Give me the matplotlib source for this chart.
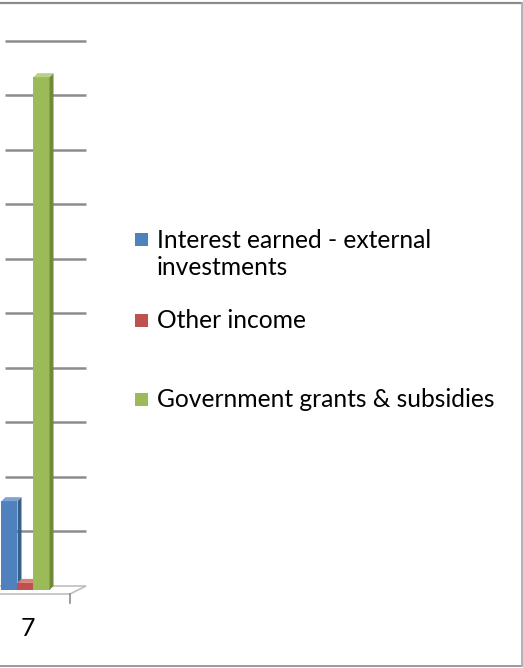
import matplotlib
matplotlib.use("Agg")
import matplotlib.pyplot as plt
from matplotlib.patches import Polygon
from matplotlib.lines import Line2D

category = "7"
series = ["Interest earned - external\ninvestments", "Other income",
          "Government grants & subsidies"]
values = [1.63, 0.13, 9.41]
gridlines = list(range(1, 11))

front = ["#4F81BD", "#C0504D", "#9BBB59"]
side = ["#38608F", "#8E3532", "#6F8B3A"]
top = ["#7EA3D1", "#D7817E", "#B9D187"]

W, H = 523, 668
fig = plt.figure(figsize=(W / 100, H / 100), dpi=100)

# pixel geometry of plot area
px_unit_y = 54.5
floor_px = 586
ylo, yhi = -0.4, 10.2
bot_px = floor_px - ylo * px_unit_y
top_px = floor_px - yhi * px_unit_y
px_unit_x = 80
center_px = 25.5
ax_right_px = 90
xlo = (0 - center_px) / px_unit_x
xhi = (ax_right_px - center_px) / px_unit_x

ax = fig.add_axes([0, 1 - bot_px / H, ax_right_px / W, (bot_px - top_px) / H])
ax.set_xlim(xlo, xhi)
ax.set_ylim(ylo, yhi)
ax.axis("off")

dx = 4 / px_unit_x
dy = 4 / px_unit_y
w = 16 / px_unit_x

# back wall gridlines
ax.hlines(gridlines, (5 - center_px) / px_unit_x, (86 - center_px) / px_unit_x,
          colors="#8C8C8C", linewidth=1.8, zorder=1)

# floor
fx_front = (70 - center_px) / px_unit_x
fx_back = (86 - center_px) / px_unit_x
ax.add_patch(Polygon([(xlo - 1, 0), (fx_back, 0), (fx_front, -2 * dy), (xlo - 1, -2 * dy)],
                     closed=True, facecolor="white", edgecolor="#BFBFBF",
                     linewidth=1.2, zorder=2))
ax.plot([fx_front, fx_front], [-2 * dy, -2 * dy - 9 / px_unit_y], color="#8C8C8C",
        linewidth=1.2, zorder=2)

# 3D columns
offsets = [-w, 0, w]
for i, v in enumerate(values):
    x0 = offsets[i] - w / 2
    ax.bar(offsets[i], v, width=w, bottom=-dy, color=front[i], linewidth=0, zorder=3 + i)
    ax.add_patch(Polygon([(x0 + w, -dy), (x0 + w + dx, 0), (x0 + w + dx, v), (x0 + w, v - dy)],
                         closed=True, facecolor=side[i], linewidth=0, zorder=3 + i))
    ax.add_patch(Polygon([(x0, v - dy), (x0 + w, v - dy), (x0 + w + dx, v), (x0 + dx, v)],
                         closed=True, facecolor=top[i], linewidth=0, zorder=3 + i))

fig.text(28 / W, 1 - 628 / H, category, ha="center", va="center", fontsize=18,
         family="Lato", color="black")

# legend
leg_y = [240, 320, 399]
for i, name in enumerate(series):
    y = 1 - leg_y[i] / H
    fig.patches.append(plt.Rectangle((135 / W, y - 6.5 / H), 13 / W, 13 / H,
                                     transform=fig.transFigure, facecolor=front[i],
                                     edgecolor="none"))
    fig.text(157 / W, y + 11 / H, name, ha="left", va="top", fontsize=17.7,
             family="Lato", color="black", linespacing=1.2)

# frame lines of the crop
fig.add_artist(Line2D([0, 522 / W], [1 - 3 / H, 1 - 3 / H], color="#8A8A8A", linewidth=1.6))
fig.add_artist(Line2D([0, 522 / W], [1 - 666 / H, 1 - 666 / H], color="#9A9A9A", linewidth=1.4))
fig.add_artist(Line2D([521.5 / W, 521.5 / W], [1 - 3 / H, 1 - 666 / H], color="#B0B0B0", linewidth=1.4))

fig.savefig("out.png", dpi=100)
